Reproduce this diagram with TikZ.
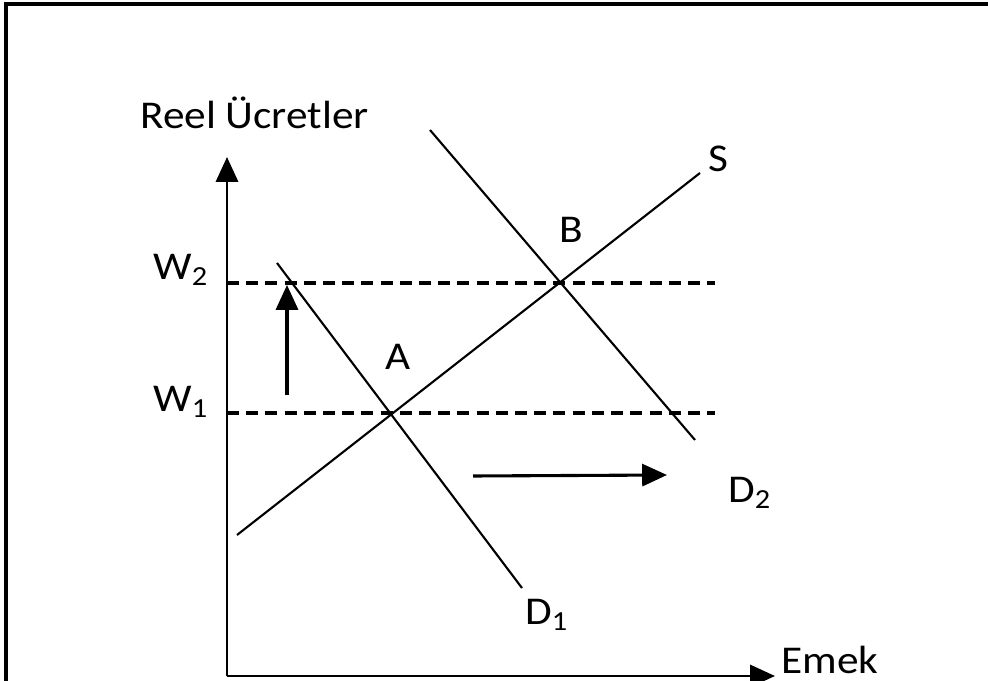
\documentclass[tikz,border=0pt]{standalone}
\usepackage{fontspec}
\setmainfont{Carlito}[FakeStretch=1.1]
\usetikzlibrary{arrows.meta}

\begin{document}
\begin{tikzpicture}[x=0.025cm, y=-0.025cm, >={Triangle[length=0.62cm, width=0.55cm]},
    every node/.style={inner sep=0pt, anchor=base west, font=\fontsize{28}{30}\selectfont},
    gorbe/.style={line width=1.5pt},
    szint/.style={line width=2.6pt, dash pattern=on 0.3cm off 0.18cm}]
    \useasboundingbox (0,0) rectangle (988,681);

    % Keret
    \draw[line width=0.09cm] (6,681) -- (6,4) -- (988,4);

    % Tengelyek
    \coordinate (O) at (227,676);
    \coordinate (ytop) at (227,157);
    \coordinate (xend) at (775,676);
    \draw[->, line width=2.1pt] (O) -- (ytop);
    \draw[->, line width=2.1pt] (O) -- (xend);
    \node (ylabel) at (140,129) {Reel Ücretler};
    \node (xlabel) at (781,673) {Emek};

    % Metszéspontok
    \coordinate (A) at (392,413);
    \coordinate (B) at (560,283);

    % Szaggatott bérszintek
    \coordinate (w1end) at (715,413);
    \coordinate (w2end) at (715,283);
    \draw[szint] (227,413) -- (w1end);
    \draw[szint] (227,283) -- (w2end);
    \node (w1) at (153,412) {W\textsubscript{1}};
    \node (w2) at (153,280) {W\textsubscript{2}};

    % Kínálati és keresleti görbék
    \coordinate (s0) at (237,535);
    \coordinate (s1) at (700,173);
    \coordinate (d10) at (277,263);
    \coordinate (d11) at (522,588);
    \coordinate (d20) at (430,130);
    \coordinate (d21) at (695,440);
    \draw[gorbe] (s0) -- (s1);
    \draw[gorbe] (d10) -- (d11);
    \draw[gorbe] (d20) -- (d21);
    \node (slabel) at (708,172) {S};
    \node (d1label) at (525,625) {D\textsubscript{1}};
    \node (d2label) at (728,503) {D\textsubscript{2}};
    \node (alabel) at (385,370) {A};
    \node (blabel) at (559,243) {B};

    % Eltolódás nyilai
    \coordinate (up0) at (287,395);
    \coordinate (up1) at (287,285);
    \coordinate (r0) at (473,476);
    \coordinate (r1) at (667,475);
    \draw[->, line width=2.2pt] (up0) -- (up1);
    \draw[->, line width=2.2pt] (r0) -- (r1);

  \end{tikzpicture}
\end{document}
